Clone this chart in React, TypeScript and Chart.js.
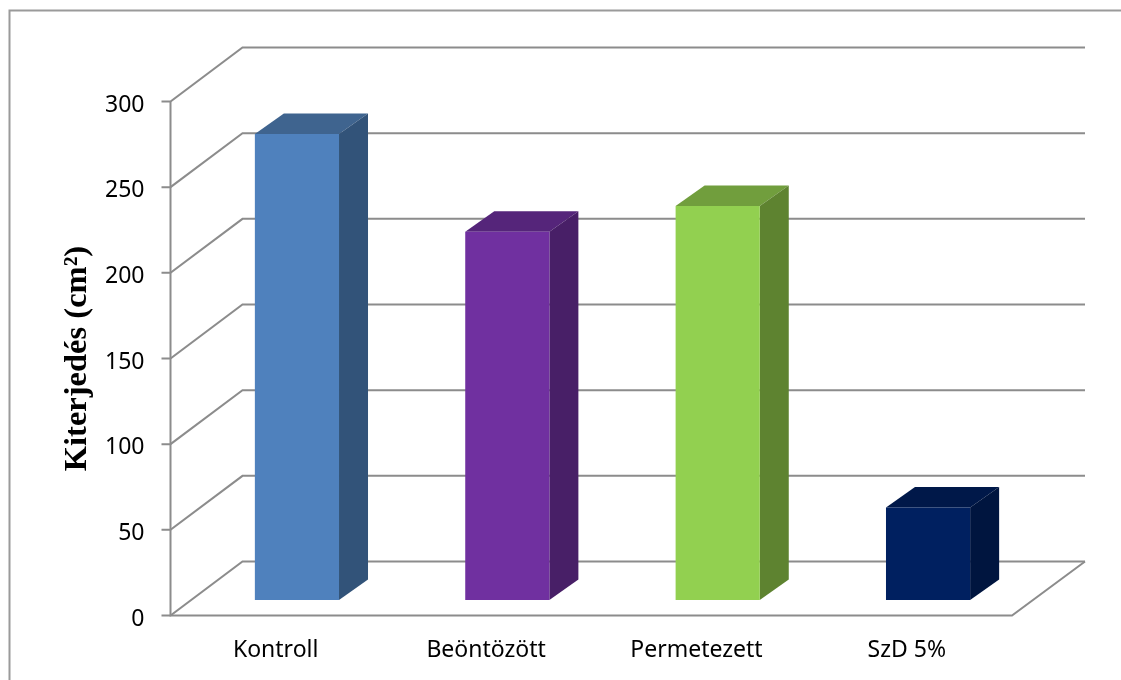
import React, { useEffect, useRef } from "react";
import { Chart, registerables } from "chart.js";

Chart.register(...registerables);

const categories = ["Kontroll", "Beöntözött", "Permetezett", "SzD 5%"];
const values = [272, 215, 230, 54];
const frontColors = ["#4f81bd", "#7030a0", "#92d050", "#002060"];
const topColors = ["#3f648f", "#55257a", "#719e3d", "#001849"];
const sideColors = ["#325379", "#481f67", "#5e8330", "#00153f"];
const yTitle = "Kiterjedés (cm²)";

const WALL_DX = 72;
const WALL_DY = 54;
const BAR_SHIFT_X = 21.25;
const BAR_SHIFT_Y = 15.5;
const BAR_DX = 29;
const BAR_DY = 20.5;
const LINE = "#8c8c8c";

const threeD = {
  id: "threeD",
  beforeDraw(chart: any) {
    const { ctx } = chart;
    ctx.save();
    ctx.fillStyle = "#ffffff";
    ctx.fillRect(0, 0, chart.width, chart.height);
    ctx.strokeStyle = "#9a9a9a";
    ctx.lineWidth = 2;
    ctx.beginPath();
    ctx.moveTo(9.5, chart.height);
    ctx.lineTo(9.5, 10.5);
    ctx.lineTo(chart.width, 10.5);
    ctx.stroke();
    ctx.restore();
  },
  beforeDatasetsDraw(chart: any) {
    const { ctx, chartArea, scales } = chart;
    const { left, right, top, bottom } = chartArea;
    const y = scales.y;
    ctx.save();
    ctx.strokeStyle = LINE;
    ctx.lineWidth = 2;
    ctx.lineJoin = "miter";
    y.ticks.forEach((t: any) => {
      const py = y.getPixelForValue(t.value);
      ctx.beginPath();
      ctx.moveTo(left - 9, py);
      ctx.lineTo(left, py);
      ctx.lineTo(left + WALL_DX, py - WALL_DY);
      ctx.lineTo(right + WALL_DX + 1, py - WALL_DY);
      ctx.stroke();
    });
    ctx.beginPath();
    ctx.moveTo(left, top);
    ctx.lineTo(left, bottom);
    ctx.lineTo(right, bottom);
    ctx.lineTo(right + WALL_DX + 1, bottom - WALL_DY);
    ctx.stroke();
    ctx.restore();
  },
  beforeDatasetDraw(chart: any, args: any) {
    const { ctx } = chart;
    ctx.save();
    ctx.translate(BAR_SHIFT_X, -BAR_SHIFT_Y);
    args.meta.data.forEach((bar: any, i: number) => {
      const l = bar.x - bar.width / 2;
      const r = bar.x + bar.width / 2;
      ctx.fillStyle = topColors[i];
      ctx.beginPath();
      ctx.moveTo(l, bar.y);
      ctx.lineTo(l + BAR_DX, bar.y - BAR_DY);
      ctx.lineTo(r + BAR_DX, bar.y - BAR_DY);
      ctx.lineTo(r, bar.y);
      ctx.closePath();
      ctx.fill();
      ctx.fillStyle = sideColors[i];
      ctx.beginPath();
      ctx.moveTo(r, bar.y);
      ctx.lineTo(r + BAR_DX, bar.y - BAR_DY);
      ctx.lineTo(r + BAR_DX, bar.base - BAR_DY);
      ctx.lineTo(r, bar.base);
      ctx.closePath();
      ctx.fill();
    });
  },
  afterDatasetDraw(chart: any) {
    chart.ctx.restore();
  },
};

export default function App() {
  const ref = useRef<HTMLCanvasElement | null>(null);
  useEffect(() => {
    const chart = new Chart(ref.current as HTMLCanvasElement, {
      type: "bar",
      data: {
        labels: categories,
        datasets: [
          {
            data: values,
            backgroundColor: frontColors,
            borderWidth: 0,
            barPercentage: 0.4,
            categoryPercentage: 1,
          },
        ],
      },
      options: {
        responsive: false,
        animation: false,
        devicePixelRatio: 1,
        layout: { padding: { top: 101.5, right: 109, left: 0, bottom: 0 } },
        plugins: { legend: { display: false }, tooltip: { enabled: false }, title: { display: false } },
        scales: {
          x: {
            grid: { display: false, drawTicks: false },
            border: { display: false },
            afterFit: (s: any) => { s.height = 64.5; },
            ticks: {
              color: "#000000",
              padding: 21,
              maxRotation: 0,
              font: { family: "'Noto Sans'", size: 23 },
            },
          },
          y: {
            min: 0,
            max: 300,
            grid: { display: false, drawTicks: false },
            border: { display: false },
            afterFit: (s: any) => { s.width = 170.5; },
            ticks: {
              stepSize: 50,
              color: "#000000",
              padding: 26,
              labelOffset: 3.5,
              font: { family: "'Noto Sans'", size: 23 },
            },
            title: {
              display: true,
              text: yTitle,
              color: "#000000",
              padding: { top: 58.5, bottom: 0 },
              font: { family: "'Liberation Serif'", size: 32.5, weight: "bold" },
            },
          },
        },
      },
      plugins: [threeD],
    } as any);
    return () => chart.destroy();
  }, []);
  return (
    <div style={{ position: "fixed", left: 0, top: 0, width: 1121, height: 680, overflow: "hidden", background: "#fff" }}>
      <canvas ref={ref} width={1121} height={680} style={{ display: "block" }} />
    </div>
  );
}
